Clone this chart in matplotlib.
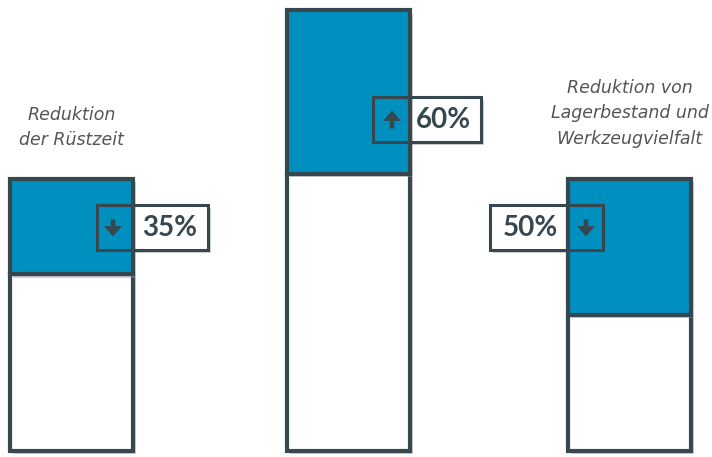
########################################################################
### Modules ###
########################################################################

import matplotlib
matplotlib.use('Agg')
import matplotlib.pyplot  as plt
import matplotlib.patheffects as pe
from matplotlib.patches import Rectangle


########################################################################
### Data ###
########################################################################

#share of the change (blue part) and the remaining base (white part)
change_values = [0.35, 0.60, 0.50]
base_values   = [0.65, 1.02, 0.50]
pct_labels    = ['35%', '60%', '50%']
directions    = ['down', 'up', 'down']
titles        = ['Reduktion\nder Rüstzeit', '', 'Reduktion von\nLagerbestand und\nWerkzeugvielfalt']


########################################################################
### Layout ###
########################################################################

W, H   = 712, 457
BASE   = 451.0      #pixel row of value 0
SCALE  = 272.0      #pixels per value unit

bar_x     = [71.5, 348.0, 629.5]
bar_width = 123

BLUE  = '#0090C0'
DARK  = '#37474F'
GREY  = '#555555'

def py(p):
    '''pixel row -> data y'''
    return (BASE - p) / SCALE

#label boxes: (x0, x1, y_top, y_bottom) in pixels, arrow x, text x
boxes = [
    (97, 208, 205, 250, 113, 170),
    (373, 481, 97, 142, 392, 443),
    (490, 603, 205, 250, 586, 530),
    ]


########################################################################
### Plot ###
########################################################################

fig = plt.figure(figsize=(W/100, H/100), dpi=100)
ax  = fig.add_axes([0, 0, 1, 1])
ax.set_xlim(0, W)
ax.set_ylim(py(H), py(0))
ax.axis('off')

shadow = [pe.SimplePatchShadow(offset=(2.5, -2.5), shadow_rgbFace='#9a9a9a', alpha=0.45),
          pe.Normal()]

#white base part
b1 = ax.bar(bar_x, base_values, width=bar_width, color='white',
            edgecolor=DARK, linewidth=3, zorder=3)
#blue change part on top
b2 = ax.bar(bar_x, change_values, bottom=base_values, width=bar_width,
            color=BLUE, edgecolor=DARK, linewidth=3, zorder=3)
for p in list(b1) + list(b2):
    p.set_path_effects(shadow)

#label boxes with arrows and percentages
for (x0, x1, yt, yb, ax_x, tx), lab, d in zip(boxes, pct_labels, directions):
    yc = (yt + yb) / 2
    #shadow carrier below the bars
    sh = Rectangle((x0, py(yb)), x1 - x0, py(yt) - py(yb), facecolor='white',
                   edgecolor='none', zorder=1)
    sh.set_path_effects(shadow)
    ax.add_patch(sh)
    #outline on top
    ax.add_patch(Rectangle((x0, py(yb)), x1 - x0, py(yt) - py(yb), facecolor='none',
                           edgecolor=DARK, linewidth=2.2, zorder=5))
    #arrow
    if d == 'down':
        tail, tip = yc - 8, yc + 9
    else:
        tail, tip = yc + 9, yc - 9
    ax.annotate('', xy=(ax_x, py(tip)), xytext=(ax_x, py(tail)),
                arrowprops=dict(arrowstyle='simple,head_width=0.85,head_length=0.5,tail_width=0.22',
                                lw=0, color=DARK, mutation_scale=15,
                                shrinkA=0, shrinkB=0), zorder=6)
    #percentage
    ax.text(tx, py(yc + 1), lab, ha='center', va='center', fontsize=20,
            fontweight='bold', family='Lato', color=DARK, zorder=6)

#category titles above the bars
title_y = [127.5, 0, 113.5]
for x, t, ty in zip(bar_x, titles, title_y):
    if t:
        ax.text(x, py(ty), t, ha='center', va='center', fontsize=12.5,
                style='italic', family='DejaVu Sans', color=GREY,
                linespacing=1.55, zorder=6)

fig.savefig('out.png', dpi=100)
